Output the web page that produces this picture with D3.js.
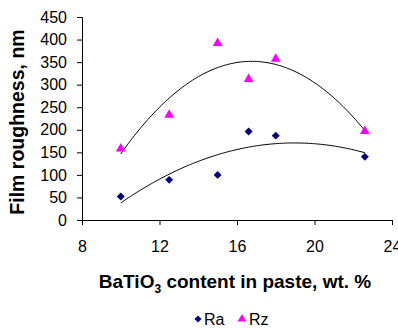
<!DOCTYPE html>
<html>
<head>
<meta charset="utf-8">
<script src="https://cdn.jsdelivr.net/npm/d3@7"></script>
<style>
  body { margin: 0; background: #fff; }
  svg { font-family: "Liberation Sans", Arial, sans-serif; }
</style>
</head>
<body>
<svg id="graph" width="398" height="329"></svg>
<script>
// BaTiO3 content, wt. %
const content = [10, 12.5, 15, 16.6, 18, 22.6];
const ra = [52, 89, 100, 196, 187, 140];
const rz = [158, 233, 392, 312, 357, 197];
const xTicks = [8, 12, 16, 20, 24];
const yTicks = [0, 50, 100, 150, 200, 250, 300, 350, 400, 450];

const svg = d3.select("#graph");
const margin = { top: 17, right: 6, bottom: 109, left: 82 };
const width = +svg.attr("width") - margin.left - margin.right;
const height = +svg.attr("height") - margin.top - margin.bottom;

const g = svg.append("g")
    .attr("transform", `translate(${margin.left},${margin.top})`);

const x = d3.scaleLinear().domain([8, 24]).range([0, width]);
const y = d3.scaleLinear().domain([0, 450]).range([height, 0]);

// quadratic least squares, like the Excel trendline
function polyFit(xs, ys) {
    const S = [0, 0, 0, 0, 0], T = [0, 0, 0];
    xs.forEach((xv, i) => {
        for (let k = 0; k < 5; k++) S[k] += Math.pow(xv, k);
        for (let k = 0; k < 3; k++) T[k] += ys[i] * Math.pow(xv, k);
    });
    const A = [[S[0], S[1], S[2], T[0]], [S[1], S[2], S[3], T[1]], [S[2], S[3], S[4], T[2]]];
    for (let i = 0; i < 3; i++) {
        for (let j = i + 1; j < 3; j++) {
            const f = A[j][i] / A[i][i];
            for (let k = i; k < 4; k++) A[j][k] -= f * A[i][k];
        }
    }
    const c = [0, 0, 0];
    for (let i = 2; i >= 0; i--) {
        let s = A[i][3];
        for (let k = i + 1; k < 3; k++) s -= A[i][k] * c[k];
        c[i] = s / A[i][i];
    }
    return xv => c[0] + c[1] * xv + c[2] * xv * xv;
}

// axes
const yAxis = g.append("g")
    .call(d3.axisLeft(y).tickValues(yTicks).tickSize(5).tickPadding(10));
const xAxis = g.append("g")
    .attr("transform", `translate(0,${height})`)
    .call(d3.axisBottom(x).tickValues(xTicks).tickSize(5).tickPadding(16));
[yAxis, xAxis].forEach(a => {
    a.select(".domain").attr("stroke", "#000");
    a.selectAll(".tick line").attr("stroke", "#000");
    a.selectAll("text").attr("font-size", 16).attr("fill", "#000")
        .attr("font-family", "Liberation Sans, Arial, sans-serif");
});

// trendlines
const [x0, x1] = d3.extent(content);
const xs = d3.range(x0, x1 + 0.001, 0.1);
[ra, rz].forEach(series => {
    const f = polyFit(content, series);
    g.append("path")
        .datum(xs)
        .attr("fill", "none")
        .attr("stroke", "#000")
        .attr("stroke-width", 1)
        .attr("d", d3.line().x(d => x(d)).y(d => y(f(d))));
});

// markers
const diamond = d3.symbol().type(d3.symbolDiamond2).size(40);
const triangle = d3.symbol().type(d3.symbolTriangle).size(42);

g.selectAll(".ra")
    .data(content)
    .enter().append("path")
        .attr("class", "ra")
        .attr("transform", (d, i) => `translate(${x(d)},${y(ra[i])})`)
        .attr("d", diamond)
        .attr("fill", "#000080");

g.selectAll(".rz")
    .data(content)
    .enter().append("path")
        .attr("class", "rz")
        .attr("transform", (d, i) => `translate(${x(d)},${y(rz[i])})`)
        .attr("d", triangle)
        .attr("fill", "#ff00ff");

// axis titles
svg.append("text")
    .attr("transform", "rotate(-90)")
    .attr("x", -122)
    .attr("y", 24)
    .attr("text-anchor", "middle")
    .attr("font-size", 19.5)
    .attr("font-weight", "bold")
    .text("Film roughness, nm");

const xt = svg.append("text")
    .attr("x", 235)
    .attr("y", 288)
    .attr("text-anchor", "middle")
    .attr("font-size", 19)
    .attr("font-weight", "bold");
xt.append("tspan").text("BaTiO");
xt.append("tspan").attr("font-size", 12).attr("dy", 5).text("3");
xt.append("tspan").attr("dy", -5).text(" content in paste, wt. %");

// legend
const legend = svg.append("g").attr("transform", "translate(198,319)");
legend.append("path").attr("d", d3.symbol().type(d3.symbolDiamond2).size(32)).attr("fill", "#000080");
legend.append("text").attr("x", 6).attr("y", 6).attr("font-size", 16).text("Ra");
legend.append("path").attr("transform", "translate(44,0)")
    .attr("d", d3.symbol().type(d3.symbolTriangle).size(34)).attr("fill", "#ff00ff");
legend.append("text").attr("x", 51).attr("y", 6).attr("font-size", 16).text("Rz");
</script>
</body>
</html>
